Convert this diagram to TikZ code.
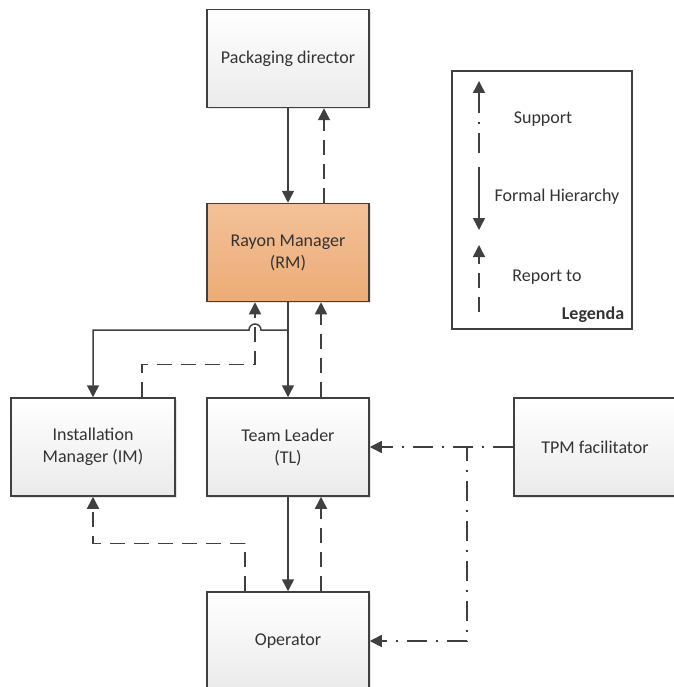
\documentclass[tikz,border=0pt]{standalone}
\usepackage{fontspec}
\setmainfont{Carlito}
\usetikzlibrary{arrows.meta,shadows}
\definecolor{ln}{HTML}{404040}
\definecolor{tx}{HTML}{333333}
\definecolor{rmtop}{HTML}{F3C199}
\definecolor{rmbot}{HTML}{EDAB75}
\tikzset{
  box/.style={draw=ln, line width=1.5pt, top color=white, bottom color=black!8,
    minimum width=162pt, minimum height=98pt, align=center, text=tx,
    font=\fontsize{18}{22}\selectfont, inner sep=0pt,
    drop shadow={shadow xshift=1.5pt, shadow yshift=-1.5pt, opacity=0.25, fill=black!40}},
  orangebox/.style={box, top color=rmtop, bottom color=rmbot},
  link/.style={draw=ln, line width=1.5pt, -{Triangle[width=12pt,length=12pt]}},
  hier/.style={link},
  rep/.style={link, dash pattern=on 15pt off 9pt},
  sup/.style={link, dash pattern=on 20pt off 9pt on 2pt off 9pt},
  legtext/.style={text=tx, font=\fontsize{18}{22}\selectfont, inner sep=0pt},
}
\begin{document}
\begin{tikzpicture}[x=1pt,y=-1pt]
  \useasboundingbox (0,0) rectangle (673,687);

  % organisation boxes
  \node[box] (pd) at (288,58.5) {Packaging director};
  \node[orangebox] (rm) at (288,252.5) {Rayon Manager\\(RM)};
  \node[box, minimum width=164pt] (im) at (93,447) {Installation\\Manager (IM)};
  \node[box] (tl) at (288,447) {Team Leader\\(TL)};
  \node[box] (tpm) at (595,447) {TPM facilitator};
  \node[box] (op) at (288,641) {Operator};

  % helper points for the routed connectors
  \coordinate (split) at (288,330);
  \coordinate (hop) at (261,330);
  \coordinate (tee) at (467,447);

  % formal hierarchy
  \draw[hier] (pd.south) -- (rm.north);
  \draw[hier] (rm.south) -- (tl.north);
  \draw[hier] (rm.south) -- (split) -- (hop) arc[start angle=0, end angle=-180, radius=6]
    -- (im.north |- split) -- (im.north);
  \draw[hier] (tl.south) -- (op.north);

  % report to
  \draw[rep] ([xshift=36pt]rm.north) -- ([xshift=36pt]pd.south);
  \draw[rep] ([xshift=33pt]tl.north) -- ([xshift=33pt]rm.south);
  \draw[rep] ([xshift=49pt]im.north) -- ++(0,-33) -| ([xshift=-33pt]rm.south);
  \draw[rep] ([xshift=33pt]op.north) -- ([xshift=33pt]tl.south);
  \draw[rep] ([xshift=-43pt]op.north) -- ++(0,-48) -| (im.south);

  % support
  \draw[sup] (tpm.west) -- (tl.east);
  \draw[sup] (tpm.west) -- (tee) |- (op.east);

  % legend
  \node[draw=ln, line width=1.5pt, minimum width=180pt, minimum height=258pt, inner sep=0pt] (leg) at (542,200) {};
  \coordinate (s1) at (479,153); \coordinate (s2) at (479,81);
  \coordinate (h1) at (479,167); \coordinate (h2) at (479,230);
  \coordinate (r1) at (479,312); \coordinate (r2) at (479,245);
  \draw[sup] (s1) -- (s2);
  \draw[hier] (h1) -- (h2);
  \draw[rep] (r1) -- (r2);
  \node[legtext] (lsup) at (543,119) {Support};
  \node[legtext] (lhier) at (557,197) {Formal Hierarchy};
  \node[legtext] (lrep) at (547,277) {Report to};
  \node[legtext, font=\fontsize{18}{22}\selectfont\bfseries] (lleg) at (593,315) {Legenda};
\end{tikzpicture}
\end{document}
